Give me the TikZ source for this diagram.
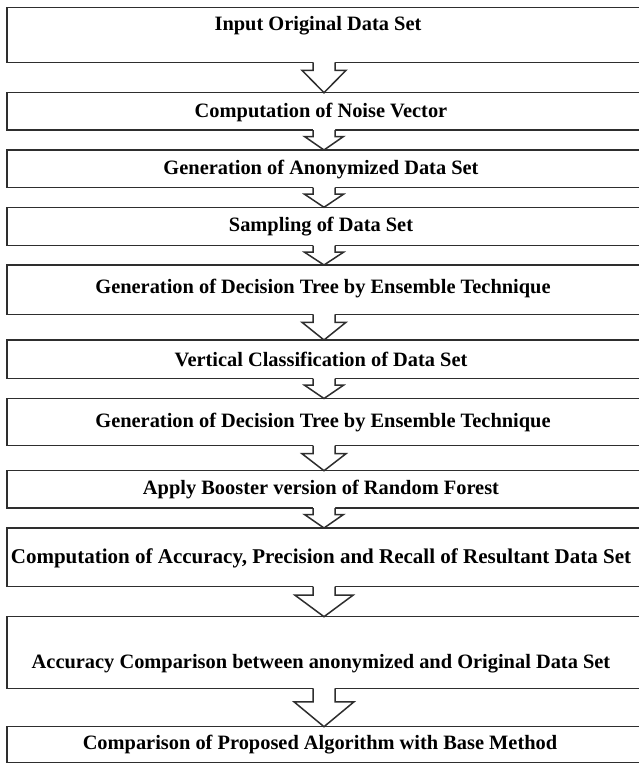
\documentclass[tikz,border=0pt]{standalone}
\usepackage{fontspec}
\setmainfont{Liberation Serif}
\usetikzlibrary{calc}

% hollow block arrow from the bottom of #1 to the top of #2
% #3 = shaft length, #4 = half width of the head
\newcommand\flowarrow[4]{%
  \fill[white] let \p1=(#1.south), \p2=(#2.north) in
    (\x2-11pt,\y1+1.5pt) -- (\x2-11pt,\y1-#3pt) -- (\x2-#4pt,\y1-#3pt) -- (\x2,\y2)
    -- (\x2+#4pt,\y1-#3pt) -- (\x2+11pt,\y1-#3pt) -- (\x2+11pt,\y1+1.5pt) -- cycle;
  \draw[arrowline] let \p1=(#1.south), \p2=(#2.north) in
    (\x2-11pt,\y1) -- (\x2-11pt,\y1-#3pt) -- (\x2-#4pt,\y1-#3pt) -- (\x2,\y2)
    -- (\x2+#4pt,\y1-#3pt) -- (\x2+11pt,\y1-#3pt) -- (\x2+11pt,\y1);
}

\begin{document}
\begin{tikzpicture}[x=1pt,y=-1pt,
  stepbox/.style={draw=black!82, line width=1.5pt, fill=white, outer sep=0pt,
                  inner sep=0pt, anchor=north west, minimum width=634pt},
  arrowline/.style={draw=black!82, line width=1.5pt, line join=miter},
  steptext/.style={font=\bfseries\fontsize{20.4}{24}\selectfont, inner sep=0pt}]
\useasboundingbox (0,0) rectangle (639,763);
\fill[white] (0,0) rectangle (639,763);

% process boxes
\node[stepbox, minimum height=55pt]   (b1)  at (7,7.3)   {};
\node[stepbox, minimum height=37.3pt] (b2)  at (7,92.7)  {};
\node[stepbox, minimum height=37.7pt] (b3)  at (7,150)   {};
\node[stepbox, minimum height=38.4pt] (b4)  at (7,207.3) {};
\node[stepbox, minimum height=49.3pt] (b5)  at (7,265)   {};
\node[stepbox, minimum height=38.7pt] (b6)  at (7,340)   {};
\node[stepbox, minimum height=47.2pt] (b7)  at (7,398.5) {};
\node[stepbox, minimum height=37.3pt] (b8)  at (7,470.7) {};
\node[stepbox, minimum height=58.7pt] (b9)  at (7,528)   {};
\node[stepbox, minimum height=71.6pt] (b10) at (7,616.7) {};
\node[stepbox, minimum height=35.8pt] (b11) at (7,726.7) {};

% step labels
\node[steptext] (t1)  at (318,25.5)  {Input Original Data Set};
\node[steptext] (t2)  at (321,112) {Computation of Noise Vector};
\node[steptext] (t3)  at (321,169.5) {Generation of Anonymized Data Set};
\node[steptext] (t4)  at (321,227) {Sampling of Data Set};
\node[steptext] (t5)  at (323,288.5) {Generation of Decision Tree by Ensemble Technique};
\node[steptext] (t6)  at (321,359) {Vertical Classification of Data Set};
\node[steptext] (t7)  at (323,422.5) {Generation of Decision Tree by Ensemble Technique};
\node[steptext, font=\bfseries\fontsize{21}{25}\selectfont]
                (t9)  at (321,558) {Computation of Accuracy, Precision and Recall of Resultant Data Set};
\node[steptext] (t8)  at (321,489.5) {Apply Booster version of Random Forest};
\node[steptext] (t10) at (321,664) {Accuracy Comparison between anonymized and Original Data Set};
\node[steptext] (t11) at (320,745) {Comparison of Proposed Algorithm with Base Method};

% connectors
\flowarrow{b1}{b2}{8}{22}
\flowarrow{b2}{b3}{6.5}{19.5}
\flowarrow{b3}{b4}{6.5}{19.5}
\flowarrow{b4}{b5}{6.5}{19.5}
\flowarrow{b5}{b6}{8}{22}
\flowarrow{b6}{b7}{6.5}{19.5}
\flowarrow{b7}{b8}{8}{22}
\flowarrow{b8}{b9}{6.5}{19.5}
\flowarrow{b9}{b10}{8.5}{29}
\flowarrow{b10}{b11}{13.5}{30}
\end{tikzpicture}
\end{document}
